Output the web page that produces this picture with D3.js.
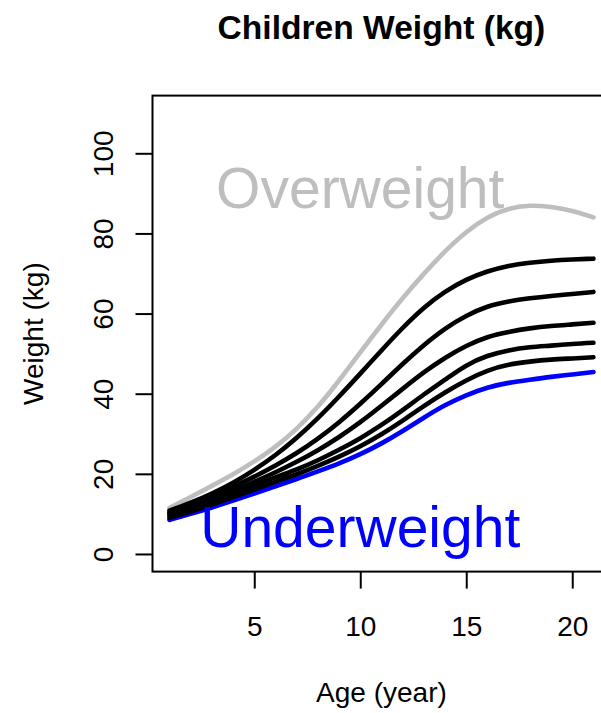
<!DOCTYPE html>
<html>
<head>
<meta charset="utf-8">
<script src="https://cdn.jsdelivr.net/npm/d3@7"></script>
<style>
  html, body { margin: 0; padding: 0; background: #fff; }
  svg { display: block; }
  text { font-family: "Liberation Sans", Arial, Helvetica, sans-serif; }
</style>
</head>
<body>
<svg id="chart" width="601" height="713"></svg>
<script>
// ---- data ----
const ages = [1,2,3,4,5,6,7,8,9,10,11,12,13,14,15,16,17,18,19,20,21];
const overweight = [11.5,14.2,17.0,19.9,23.1,26.8,31.3,36.8,43.3,50.3,57.2,63.8,69.9,75.5,80.3,83.9,86.1,86.9,86.6,85.6,84.0];
const black1 = [10.8,12.8,15.1,17.8,21.0,24.7,29.0,33.9,39.3,45.0,50.8,56.4,61.4,65.4,68.4,70.5,71.9,72.7,73.2,73.5,73.7];
const black2 = [10.3,12.2,14.3,16.7,19.3,22.1,25.2,28.8,32.9,37.5,42.4,47.4,52.1,56.2,59.4,61.7,63.0,63.8,64.4,64.9,65.4];
const black3 = [9.9,11.7,13.6,15.7,18.0,20.4,23.0,25.9,29.2,32.9,37.0,41.2,45.3,48.9,51.9,54.1,55.4,56.3,56.9,57.3,57.7];
const black4 = [9.5,11.2,13.0,15.0,17.1,19.1,21.1,23.4,26.0,28.9,32.2,35.9,39.8,43.5,47.0,49.4,50.8,51.6,52.0,52.4,52.7];
const black5 = [9.0,10.6,12.3,14.2,16.1,18.0,19.9,22.0,24.3,26.9,29.9,33.3,36.9,40.3,43.3,45.7,47.2,48.0,48.5,48.8,49.1];
const underweight = [8.5,10.0,11.6,13.3,15.1,16.9,18.7,20.6,22.6,24.9,27.6,30.7,34.0,37.1,39.6,41.5,42.7,43.5,44.2,44.8,45.4];
const xTicks = [5,10,15,20];
const yTicks = [0,20,40,60,80,100];
const title = "Children Weight (kg)";
const xLabel = "Age (year)";
const yLabel = "Weight (kg)";
const overLabel = "Overweight";
const underLabel = "Underweight";

// ---- layout ----
const svg = d3.select("#chart");
const L = 152.5, R = 610.4, T = 95.6, B = 571.6;
const x = d3.scaleLinear().domain([0.2, 21.8]).range([L, R]);
const y = d3.scaleLinear().domain([-4.4, 114.4]).range([B, T]);

const series = [
  {values: overweight, color: "#BEBEBE"},
  {values: underweight, color: "#0000FF"},
  {values: black1, color: "#000000"},
  {values: black2, color: "#000000"},
  {values: black3, color: "#000000"},
  {values: black4, color: "#000000"},
  {values: black5, color: "#000000"}
];

const line = d3.line().x((d,i) => x(ages[i])).y(d => y(d)).curve(d3.curveNatural);

svg.append("g").selectAll("path").data(series).join("path")
  .attr("d", s => line(s.values))
  .attr("fill", "none")
  .attr("stroke", s => s.color)
  .attr("stroke-width", 4.6)
  .attr("stroke-linecap", "round")
  .attr("stroke-linejoin", "round");

// labels inside plot
svg.append("text").attr("x", x(10)).attr("y", 208)
  .attr("text-anchor", "middle").attr("font-size", 57).attr("fill", "#BEBEBE")
  .text(overLabel);
svg.append("text").attr("x", x(10)).attr("y", 547)
  .attr("text-anchor", "middle").attr("font-size", 57).attr("fill", "#0000FF")
  .text(underLabel);

// box
svg.append("rect").attr("x", L).attr("y", T).attr("width", R - L).attr("height", B - T)
  .attr("fill", "none").attr("stroke", "#000").attr("stroke-width", 2);

// x axis
const xAxis = svg.append("g").attr("transform", `translate(0,${B})`)
  .call(d3.axisBottom(x).tickValues(xTicks).tickSize(17).tickPadding(0).tickFormat(d3.format("d")));
xAxis.select(".domain").remove();
xAxis.selectAll(".tick line").attr("stroke", "#000").attr("stroke-width", 2);
xAxis.selectAll(".tick text").attr("font-size", 28).attr("font-family", "Liberation Sans, Arial, sans-serif")
  .attr("fill", "#000").attr("dy", null).attr("y", 636 - B);

// y axis
const yAxis = svg.append("g").attr("transform", `translate(${L},0)`)
  .call(d3.axisLeft(y).tickValues(yTicks).tickSize(17).tickFormat(d3.format("d")));
yAxis.select(".domain").remove();
yAxis.selectAll(".tick line").attr("stroke", "#000").attr("stroke-width", 2);
yAxis.selectAll(".tick text")
  .attr("font-size", 28).attr("font-family", "Liberation Sans, Arial, sans-serif").attr("fill", "#000")
  .attr("x", null).attr("dy", null)
  .attr("text-anchor", "middle")
  .attr("transform", `translate(${113 - L},0) rotate(-90)`);

// titles
svg.append("text").attr("x", (L + R) / 2).attr("y", 39)
  .attr("text-anchor", "middle").attr("font-size", 33.6).attr("font-weight", "bold").text(title);
svg.append("text").attr("x", (L + R) / 2).attr("y", 702)
  .attr("text-anchor", "middle").attr("font-size", 28).text(xLabel);
svg.append("text").attr("transform", `translate(43,${(T + B) / 2}) rotate(-90)`)
  .attr("text-anchor", "middle").attr("font-size", 28).text(yLabel);
</script>
</body>
</html>
